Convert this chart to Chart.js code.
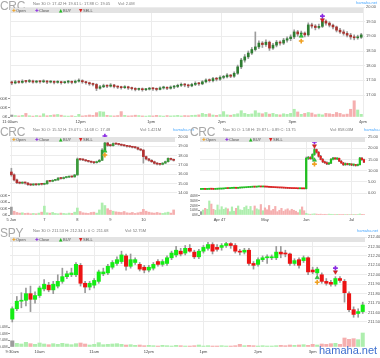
<!DOCTYPE html>
<html>
<head>
<meta charset="utf-8">
<script src="https://cdn.jsdelivr.net/npm/chart.js@4.4.1/dist/chart.umd.min.js"></script>
<style>
body{margin:0;width:380px;height:358px;position:relative;overflow:hidden;background:#fff;font-family:"Liberation Sans",Arial,sans-serif}
canvas{position:absolute}
.t{position:absolute;color:#a8a8a8;font-family:"Liberation Sans Narrow","Liberation Sans",Arial,sans-serif;font-size:12px;line-height:12px;letter-spacing:-0.3px}
.i{position:absolute;color:#777;font-size:4px;line-height:5px;white-space:nowrap}
.w{position:absolute;color:#4aa8ff;font-size:4px;line-height:5px;white-space:nowrap}
.band{position:absolute;height:5px;background:#e3e3e3;font-size:4px;line-height:5px;color:#555;white-space:nowrap}
.band span{position:absolute;top:0}
.ic{font-family:"DejaVu Sans",sans-serif;font-size:4.5px}
.big{position:absolute;left:319px;top:344px;font-size:11px;line-height:13px;color:#3d6fcf;white-space:nowrap}
</style>
</head>
<body>
<canvas id="c1" width="380" height="125" style="left:0;top:0"></canvas>
<canvas id="c2" width="190" height="97" style="left:0;top:125px"></canvas>
<canvas id="c3" width="190" height="97" style="left:190px;top:125px"></canvas>
<canvas id="c4" width="380" height="132" style="left:0;top:226px"></canvas>

<div class="t" style="left:0;top:0">CRC</div>
<div class="i" style="left:33px;top:1px">Nov 30 O: 17.42 H: 19.61 L: 17.88 C: 19.05</div>
<div class="i" style="left:118px;top:1px">Vol: 2.0M</div>
<div class="w" style="left:356px;top:0">hamaha.net</div>
<div class="band" style="left:10px;top:8px;width:353px">
<span class="ic" style="left:2px;color:#f0a020">✚</span><span style="left:6px">Open</span>
<span class="ic" style="left:25px;color:#8a2be2">✚</span><span style="left:29px">Close</span>
<span class="ic" style="left:49px;color:#22b822">▲</span><span style="left:53px">BUY</span>
<span class="ic" style="left:69px;color:#d82020">▼</span><span style="left:73px">SELL</span>
</div>

<div class="t" style="left:0;top:126px">CRC</div>
<div class="i" style="left:33px;top:127px">Nov 30 O: 15.52 H: 19.07 L: 14.68 C: 17.48</div>
<div class="i" style="left:140px;top:127px">Vol: 1.421M</div>
<div class="w" style="left:173px;top:127px">hamaha.net</div>
<div class="band" style="left:10px;top:137px;width:165px">
<span class="ic" style="left:2px;color:#f0a020">✚</span><span style="left:6px">Open</span>
<span class="ic" style="left:25px;color:#8a2be2">✚</span><span style="left:29px">Close</span>
<span class="ic" style="left:49px;color:#22b822">▲</span><span style="left:53px">BUY</span>
<span class="ic" style="left:69px;color:#d82020">▼</span><span style="left:73px">SELL</span>
</div>

<div class="t" style="left:190px;top:126px">CRC</div>
<div class="i" style="left:223px;top:127px">Nov 30 O: 1.58 H: 19.87 L: 0.89 C: 13.75</div>
<div class="i" style="left:330px;top:127px">Vol: 858.03M</div>
<div class="w" style="left:364px;top:127px">hamaha.net</div>
<div class="band" style="left:200px;top:137px;width:165px">
<span class="ic" style="left:2px;color:#f0a020">✚</span><span style="left:6px">Open</span>
<span class="ic" style="left:25px;color:#8a2be2">✚</span><span style="left:29px">Close</span>
<span class="ic" style="left:49px;color:#22b822">▲</span><span style="left:53px">BUY</span>
<span class="ic" style="left:69px;color:#d82020">▼</span><span style="left:73px">SELL</span>
</div>

<div class="t" style="left:0;top:227px">SPY</div>
<div class="i" style="left:33px;top:228px">Nov 30 O: 211.53 H: 212.34 L: 0 C: 211.68</div>
<div class="i" style="left:125px;top:228px">Vol: 52.75M</div>
<div class="w" style="left:357px;top:228px">hamaha.net</div>
<div class="band" style="left:10px;top:237px;width:355px">
<span class="ic" style="left:2px;color:#f0a020">✚</span><span style="left:6px">Open</span>
<span class="ic" style="left:25px;color:#8a2be2">✚</span><span style="left:29px">Close</span>
<span class="ic" style="left:49px;color:#22b822">▲</span><span style="left:53px">BUY</span>
<span class="ic" style="left:69px;color:#d82020">▼</span><span style="left:73px">SELL</span>
</div>
<div class="big">hamaha.net</div>

<script>
// CRC intraday, 3-minute candles 11:00am - 4pm
const crcDayOpen = [
  17.42,17.41,17.45,17.43,17.47,17.46,17.48,17.44,17.46,17.45,
  17.47,17.44,17.46,17.43,17.45,17.42,17.44,17.46,17.43,17.47,
  17.49,17.45,17.42,17.38,17.36,17.23,17.28,17.32,17.30,17.34,
  17.29,17.27,17.25,17.28,17.24,17.22,17.19,17.21,17.18,17.20,
  17.22,17.21,17.19,17.24,17.26,17.23,17.27,17.29,17.33,17.36,
  17.34,17.31,17.36,17.40,17.38,17.45,17.51,17.49,17.56,17.54,
  17.60,17.62,17.68,17.64,17.74,17.96,18.19,18.30,18.43,18.55,
  18.64,18.77,18.72,18.80,18.60,18.70,18.80,18.77,18.87,18.92,
  18.98,19.15,19.08,19.11,19.05,19.39,19.35,19.30,19.34,19.52,
  19.45,19.38,19.32,19.21,19.15,19.10,19.04,18.98,18.95,18.97];
const crcDayHigh = [
  17.47,17.50,17.49,17.52,17.50,17.53,17.51,17.50,17.49,17.52,
  17.50,17.49,17.48,17.49,17.47,17.46,17.50,17.48,17.51,17.55,
  17.52,17.47,17.44,17.41,17.39,17.33,17.37,17.35,17.39,17.36,
  17.31,17.30,17.32,17.30,17.27,17.25,17.24,17.24,17.23,17.26,
  17.25,17.24,17.28,17.30,17.28,17.31,17.33,17.37,17.41,17.39,
  17.37,17.40,17.45,17.43,17.49,17.55,17.55,17.60,17.60,17.65,
  17.67,17.73,17.70,17.79,18.02,18.25,18.38,18.50,18.62,19.15,
  18.85,18.82,18.88,18.84,18.76,18.86,18.85,18.93,18.98,19.05,
  19.22,19.20,19.18,19.15,19.46,19.45,19.40,19.42,19.61,19.56,
  19.50,19.42,19.35,19.27,19.22,19.16,19.10,19.05,19.04,19.10];
const crcDayLow = [
  17.35,17.38,17.40,17.40,17.41,17.42,17.40,17.41,17.40,17.42,
  17.39,17.41,17.38,17.40,17.37,17.39,17.40,17.38,17.40,17.44,
  17.40,17.37,17.33,17.31,17.15,17.20,17.25,17.25,17.27,17.24,
  17.22,17.20,17.22,17.19,17.17,17.14,17.16,17.13,17.15,17.17,
  17.16,17.14,17.17,17.20,17.18,17.20,17.22,17.25,17.29,17.28,
  17.25,17.28,17.32,17.33,17.35,17.41,17.44,17.45,17.48,17.50,
  17.55,17.58,17.59,17.60,17.70,17.90,18.12,18.24,18.38,18.50,
  18.58,18.62,18.66,18.52,18.55,18.64,18.70,18.72,18.80,18.85,
  18.92,19.00,19.02,18.98,19.00,19.28,19.22,19.25,19.30,19.38,
  19.32,19.25,19.15,19.10,19.04,18.98,18.90,18.88,18.90,18.93];
const crcDayClose = [
  17.41,17.45,17.43,17.47,17.46,17.48,17.44,17.46,17.45,17.47,
  17.44,17.46,17.43,17.45,17.42,17.44,17.46,17.43,17.47,17.49,
  17.45,17.42,17.38,17.36,17.23,17.28,17.32,17.30,17.34,17.29,
  17.27,17.25,17.28,17.24,17.22,17.19,17.21,17.18,17.20,17.22,
  17.21,17.19,17.24,17.26,17.23,17.27,17.29,17.33,17.36,17.34,
  17.31,17.36,17.40,17.38,17.45,17.51,17.49,17.56,17.54,17.60,
  17.62,17.68,17.64,17.74,17.96,18.19,18.30,18.43,18.55,18.64,
  18.77,18.72,18.80,18.60,18.70,18.80,18.77,18.87,18.92,18.98,
  19.15,19.08,19.11,19.05,19.39,19.35,19.30,19.34,19.52,19.45,
  19.38,19.32,19.21,19.15,19.10,19.04,18.98,18.95,18.97,19.05];
const crcDayVol = [ // thousands
  110,80,60,90,200,70,50,80,60,180,
  70,90,120,140,100,60,50,70,40,150,
  60,80,110,90,240,300,280,90,70,60,
  80,300,90,60,70,100,80,60,50,70,
  60,90,70,50,80,60,70,90,60,80,
  70,90,100,120,200,150,180,110,90,130,
  300,120,100,140,180,350,200,150,170,350,
  220,180,250,160,200,140,120,180,150,200,
  430,280,150,200,250,220,130,160,120,200,
  180,150,250,200,130,160,430,900,390,150];
const crcDayTickPos = [-0.5, 19.5, 39.5, 59.5, 79.5, 99.5];
const crcDayTickLabels = ['11:00am', '12pm', '1pm', '2pm', '3pm', '4pm'];
const crcDayPriceTicks = [17, 17.5, 18, 18.5, 19, 19.5, 20];
const crcDayVolTicks = [0, 500, 1000];
// markers: Open, BUY, Close, SELL
const crcDayMarkX = [82, 82, 88, 88];
const crcDayMarkY = [18.84, 19.01, 19.69, 19.56];

// CRC, 5 days of bars
const crcWeekOpen = [
  16.25,15.95,15.40,15.10,15.05,15.12,15.07,14.90,14.86,14.92,14.88,14.95,
  14.93,14.98,15.29,15.25,15.35,15.40,15.60,15.55,15.65,15.70,15.75,15.72,
  15.93,17.64,17.58,17.54,17.45,17.38,17.30,17.25,17.35,17.50,18.60,19.36,
  19.10,19.07,19.30,19.25,19.20,19.12,19.07,19.00,18.96,18.90,18.86,18.70,
  18.60,17.90,17.65,17.50,17.35,17.18,17.10,17.07,17.20,17.36,17.71,17.60];
const crcWeekHigh = [
  16.65,16.05,15.50,15.20,15.20,15.18,15.12,14.98,15.00,14.98,15.02,15.00,
  15.05,15.35,15.33,15.42,15.46,15.66,15.65,15.72,15.76,15.80,15.80,16.00,
  17.75,17.70,17.65,17.58,17.50,17.42,17.35,17.42,17.60,18.75,19.50,19.45,
  19.20,19.38,19.36,19.30,19.25,19.16,19.12,19.05,19.00,18.95,18.92,18.75,
  18.65,17.95,17.72,17.58,17.42,17.25,17.15,17.25,17.42,17.78,17.75,17.65];
const crcWeekLow = [
  15.80,15.30,15.00,14.98,14.98,14.95,14.82,14.78,14.80,14.80,14.84,14.85,
  14.88,14.95,15.18,15.20,15.30,15.35,15.48,15.50,15.60,15.65,15.66,15.70,
  15.90,17.48,17.45,17.38,17.30,17.22,17.15,17.20,17.30,17.45,18.50,19.00,
  18.98,19.02,19.18,19.12,19.05,18.98,18.92,18.88,18.82,18.78,18.62,18.52,
  17.20,17.55,17.42,17.28,17.10,17.02,16.98,17.02,17.15,17.30,17.52,17.42];
const crcWeekClose = [
  15.95,15.40,15.10,15.05,15.12,15.07,14.90,14.86,14.92,14.88,14.95,14.93,
  14.98,15.29,15.25,15.35,15.40,15.60,15.55,15.65,15.70,15.75,15.72,15.93,
  17.64,17.58,17.54,17.45,17.38,17.30,17.25,17.35,17.50,18.60,19.36,19.10,
  19.07,19.30,19.25,19.20,19.12,19.07,19.00,18.96,18.90,18.86,18.70,18.60,
  17.90,17.65,17.50,17.35,17.18,17.10,17.07,17.20,17.36,17.71,17.60,17.50];
const crcWeekVol = [ // thousands
  250,120,80,60,70,50,60,40,50,40,60,90,
  280,70,60,80,50,40,60,50,40,60,50,90,
  220,110,70,60,50,80,90,60,160,380,300,200,
  150,120,100,90,80,110,70,60,80,50,70,90,
  180,120,90,70,60,80,60,50,70,90,60,160];
const crcWeekTickPos = [0, 12, 24, 36, 48];
const crcWeekTickLabels = ['5 Jun', '7', '8', '9', '10'];
const crcWeekPriceTicks = [14, 15, 16, 17, 18, 19, 20];
const crcWeekVolTicks = [0, 200, 400, 600];
const crcWeekMarkX = [34, 34, 34, 34];
const crcWeekMarkY = [18.07, 18.5, 20.1, 19.79];

// CRC, daily bars
const crcQtrOpen = [
  1.62,1.65,1.70,1.62,1.68,1.75,1.70,1.66,1.72,1.78,1.80,
  1.85,1.95,2.05,2.00,2.10,2.15,2.20,2.12,2.25,2.30,2.35,
  2.40,2.50,2.55,2.62,2.70,2.65,2.75,2.80,2.72,2.78,2.70,
  2.65,2.55,2.50,2.45,2.40,2.35,2.30,2.28,2.22,2.15,2.10,
  2.05,2.00,1.98,1.95,1.92,1.95,1.90,
  1.90,15.50,15.80,15.30,17.20,19.40,18.20,16.40,15.00,13.90,
  13.50,13.00,13.30,15.10,15.60,15.20,15.50,14.20,13.40,12.60,
  13.10,12.70,12.90,12.50,12.70,12.30,12.60,15.60,14.90];
const crcQtrHigh = [
  1.75,1.78,1.76,1.74,1.82,1.80,1.76,1.78,1.85,1.88,1.92,
  2.02,2.12,2.10,2.16,2.22,2.26,2.24,2.32,2.36,2.42,2.46,
  2.58,2.62,2.70,2.78,2.76,2.82,2.88,2.85,2.84,2.82,2.75,
  2.70,2.60,2.56,2.50,2.44,2.38,2.36,2.32,2.26,2.20,2.16,
  2.10,2.06,2.04,2.00,2.02,2.00,1.96,
  16.00,16.30,16.20,17.50,19.87,19.60,18.50,16.80,15.40,14.30,
  13.90,13.60,15.40,15.90,15.80,15.70,15.60,14.50,13.70,13.40,
  13.30,13.20,13.10,12.90,12.80,12.90,15.90,15.80,15.10];
const crcQtrLow = [
  1.55,1.58,1.56,1.58,1.62,1.64,1.60,1.62,1.66,1.72,1.74,
  1.80,1.88,1.94,1.95,2.02,2.08,2.06,2.08,2.20,2.24,2.30,
  2.34,2.44,2.48,2.56,2.58,2.60,2.68,2.66,2.68,2.64,2.58,
  2.48,2.42,2.38,2.34,2.28,2.24,2.20,2.16,2.10,2.05,2.00,
  1.95,1.92,1.89,1.86,1.86,1.84,1.82,
  1.85,15.00,15.10,15.00,16.80,17.80,16.00,14.80,13.60,13.20,
  12.70,12.60,13.10,14.80,15.00,14.90,14.00,13.20,12.30,12.40,
  12.50,12.30,12.20,12.10,12.00,12.10,12.50,14.60,13.50];
const crcQtrClose = [
  1.65,1.70,1.62,1.68,1.75,1.70,1.66,1.72,1.78,1.80,1.85,
  1.95,2.05,2.00,2.10,2.15,2.20,2.12,2.25,2.30,2.35,2.40,
  2.50,2.55,2.62,2.70,2.65,2.75,2.80,2.72,2.78,2.70,2.65,
  2.55,2.50,2.45,2.40,2.35,2.30,2.28,2.22,2.15,2.10,2.05,
  2.00,1.98,1.95,1.92,1.95,1.90,1.88,
  15.50,15.80,15.30,17.20,19.40,18.20,16.40,15.00,13.90,13.50,
  13.00,13.30,15.10,15.60,15.20,15.50,14.20,13.40,12.60,13.10,
  12.70,12.90,12.50,12.70,12.30,12.60,15.60,14.90,13.75];
const crcQtrVol = [ // millions
  7,10.5,14,12,29.5,23,12,10,21,11,
  17.5,12,15,13,7,17,8,14,19,11,
  10,16,19,12,18,9,19,13,11,22,
  9,15,11,20,9,12,18,7,10,14,
  8,11,13,9,12,10,8,5,11,17,9,
  3.5,2,1.5,2,2.5,2,1.5,1.8,1.2,1.5,
  1,1.8,1.5,1.2,1,1.4,1.2,1,1.3,1,
  0.9,1.1,1,0.8,1,0.9,2.2,1.4,1];
const crcQtrTickPos = [9, 31, 51, 73];
const crcQtrTickLabels = ['Apr 47', 'May', 'Jun', 'Jul'];
const crcQtrPriceTicks = [0, 5, 10, 15, 20, 25];
const crcQtrVolTicks = [0, 10, 20, 30, 40];
const crcQtrMarkX = [55, 55, 55, 55];
const crcQtrMarkY = [12.9, 14.7, 22.8, 21.0];

// SPY intraday, 5-minute candles
const spyOpen = [
  211.53,211.64,211.72,211.73,211.80,211.74,211.78,211.85,211.89,211.84,
  211.88,211.93,211.98,212.00,212.00,212.10,211.91,211.87,211.89,211.93,
  212.01,212.02,212.08,212.12,212.14,212.20,212.09,212.13,212.11,212.08,
  212.05,212.07,212.14,212.11,212.12,212.18,212.21,212.25,212.23,212.28,
  212.24,212.19,212.25,212.28,212.32,212.29,212.29,212.31,212.33,212.31,
  212.25,212.24,212.26,212.12,212.11,212.16,212.18,212.18,212.18,212.24,
  212.23,212.22,212.12,212.16,212.15,212.18,212.05,212.02,212.00,211.93,
  211.92,211.90,211.96,211.93,211.80,211.63,211.59,211.61];
const spyHigh = [
  211.66,211.77,211.81,211.86,211.88,211.82,211.88,211.95,211.92,211.93,
  212.00,212.07,212.04,212.07,212.13,212.12,211.93,211.93,211.96,212.05,
  212.07,212.11,212.15,212.19,212.25,212.22,212.22,212.18,212.13,212.10,
  212.10,212.13,212.16,212.16,212.20,212.25,212.30,212.28,212.31,212.32,
  212.26,212.27,212.31,212.35,212.34,212.32,212.33,212.35,212.34,212.33,
  212.27,212.28,212.28,212.14,212.18,212.20,212.21,212.21,212.30,212.30,
  212.26,212.23,212.17,212.18,212.20,212.19,212.08,212.08,212.02,211.96,
  211.94,211.98,211.98,211.95,211.82,211.66,211.64,211.71];
const spyLow = [
  211.50,211.62,211.65,211.67,211.61,211.70,211.76,211.83,211.82,211.80,
  211.86,211.91,211.96,211.98,211.98,211.88,211.81,211.84,211.86,211.91,
  211.99,212.00,212.06,212.10,212.12,212.05,212.07,212.11,212.04,212.02,
  212.03,212.05,212.09,212.09,212.10,212.16,212.19,212.20,212.21,212.24,
  212.17,212.17,212.23,212.26,212.22,212.25,212.26,212.29,212.28,212.23,
  212.21,212.22,212.10,212.06,212.09,212.14,212.12,212.16,212.16,212.18,
  212.19,212.10,212.10,212.07,212.13,212.00,212.01,212.00,211.91,211.89,
  211.88,211.88,211.92,211.71,211.61,211.55,211.55,211.59];
const spyClose = [
  211.64,211.72,211.73,211.80,211.74,211.78,211.86,211.90,211.84,211.90,
  211.93,211.98,212.01,212.02,212.11,211.91,211.87,211.91,211.94,212.03,
  212.03,212.09,212.13,212.16,212.21,212.09,212.16,212.16,212.06,212.05,
  212.08,212.11,212.11,212.14,212.18,212.23,212.26,212.22,212.28,212.25,
  212.19,212.25,212.29,212.32,212.25,212.27,212.31,212.33,212.31,212.25,
  212.24,212.26,212.12,212.10,212.16,212.18,212.19,212.19,212.24,212.22,
  212.22,212.12,212.15,212.10,212.18,212.03,212.03,212.06,211.93,211.91,
  211.90,211.96,211.94,211.81,211.63,211.58,211.61,211.68];
const spyVol = [ // millions
  1.85,1.1,0.9,1.4,1.0,0.8,1.2,0.9,0.7,1.0,
  0.8,1.1,0.9,0.7,1.0,1.2,0.9,0.6,0.8,1.3,
  0.7,0.8,0.9,1.0,0.8,0.6,0.7,0.5,0.6,0.4,
  0.5,0.4,0.3,0.5,0.4,0.3,0.5,0.4,0.3,0.3,
  0.4,0.6,0.3,0.4,0.3,0.3,0.4,0.3,0.3,0.4,
  0.8,0.4,0.5,0.4,0.3,0.4,0.3,0.3,0.4,0.5,
  0.4,0.6,0.5,0.6,0.7,0.5,0.8,0.6,0.9,0.8,
  1.0,1.1,0.8,2.7,2.3,2.5,2.2,4.2];
const spyTickPos = [0, 6, 18, 30, 42, 54, 66];
const spyTickLabels = ['9:30am', '10am', '11am', '12pm', '1pm', '2pm', '3pm'];
const spyPriceTicks = [211.5, 211.6, 211.7, 211.8, 211.9, 212.0, 212.1, 212.2, 212.3, 212.4];
const spyVolTicks = [0, 2, 4, 6];
const spyMarkX = [67, 67, 71, 71];
const spyMarkY = [211.92, 211.97, 212.07, 212.03];

Chart.defaults.font.family = '"Liberation Sans", Arial, sans-serif';

const markLook = [
  {label: 'Open', style: 'cross', rot: 0, edge: '#f0a020', fill: '#f0a020', bw: 1.6},
  {label: 'BUY', style: 'triangle', rot: 0, edge: '#1a951a', fill: '#2ecc40', bw: 0.5},
  {label: 'Close', style: 'cross', rot: 0, edge: '#8a2be2', fill: '#8a2be2', bw: 1.6},
  {label: 'SELL', style: 'triangle', rot: 180, edge: '#b01010', fill: '#e02020', bw: 0.5}
];

function candleChart(id, d, look) {
  const idx = d.close.map((_, i) => i);
  const up = idx.map(i => d.close[i] >= d.open[i]);
  const volColor = idx.map(i => i === 0 ? '#9c9c9c' : (up[i] ? '#aeeeae' : '#f5afaf'));
  const marks = markLook.map((m, k) => ({
    type: 'line', label: m.label, showLine: false, clip: false, order: 0,
    xAxisID: 'x', yAxisID: 'y',
    data: [{x: d.markX[k], y: d.markY[k]}],
    pointStyle: m.style, rotation: m.rot, pointRadius: 2.4, borderWidth: m.bw,
    borderColor: m.edge, backgroundColor: m.fill
  }));
  const font = {size: 4};
  new Chart(document.getElementById(id), {
    type: 'bar',
    data: {
      datasets: [
        ...marks,
        {label: 'body', order: 1, grouped: false, barThickness: look.body, minBarLength: 1,
         xAxisID: 'x', yAxisID: 'y',
         data: idx.map(i => ({x: i, y: [d.open[i], d.close[i]]})),
         backgroundColor: idx.map(i => up[i] ? look.up : look.down)},
        {label: 'wick', order: 2, grouped: false, barThickness: look.wick,
         xAxisID: 'x', yAxisID: 'y',
         data: idx.map(i => ({x: i, y: [d.low[i], d.high[i]]})),
         backgroundColor: look.wickColor},
        {label: 'vol', order: 3, grouped: false, barThickness: look.volW,
         xAxisID: 'x', yAxisID: 'v',
         data: idx.map(i => ({x: i, y: d.vol[i]})),
         backgroundColor: volColor}
      ]
    },
    options: {
      responsive: false, animation: false, devicePixelRatio: 1,
      layout: {padding: {top: look.padTop, left: 0, right: 0, bottom: 0}},
      plugins: {legend: {display: false}, tooltip: {enabled: false}},
      scales: {
        x: {
          type: 'linear', min: -0.5, max: d.close.length - 0.5, offset: false,
          grid: {color: '#ececec', offset: false, drawTicks: false},
          border: {display: false},
          afterBuildTicks: s => { s.ticks = d.tickPos.map(v => ({value: v})); },
          afterFit: s => { s.height = look.xH; },
          ticks: {autoSkip: false, maxRotation: 0, padding: 2, font, color: '#444',
                  callback: (v, i) => d.tickLabels[i]}
        },
        y: {
          type: 'linear', position: 'right', min: look.pMin, max: look.pMax,
          grid: {color: '#ececec', tickLength: 2},
          border: {display: false},
          afterBuildTicks: s => { s.ticks = d.priceTicks.map(v => ({value: v})); },
          afterFit: s => { s.width = look.rW; },
          ticks: {padding: 1, font, color: '#555', callback: v => Number(v).toFixed(2)}
        },
        v: {
          type: 'linear', position: 'left', min: 0, max: look.vMax,
          grid: {drawOnChartArea: false, tickLength: 2, color: '#999'},
          border: {display: false},
          afterBuildTicks: s => { s.ticks = d.volTicks.map(v => ({value: v})); },
          afterFit: s => { s.width = 10; },
          ticks: {padding: 0.5, font, color: '#555', callback: v => look.volFmt(v)}
        }
      }
    }
  });
}

candleChart('c1', {
  open: crcDayOpen, high: crcDayHigh, low: crcDayLow, close: crcDayClose, vol: crcDayVol,
  tickPos: crcDayTickPos, tickLabels: crcDayTickLabels, priceTicks: crcDayPriceTicks,
  volTicks: crcDayVolTicks, markX: crcDayMarkX, markY: crcDayMarkY
}, {
  pMin: 16.25, pMax: 20, vMax: 6111, padTop: 7, xH: 8, rW: 17,
  body: 2, wick: 1, volW: 2.4, up: '#2f7d32', down: '#a8322d', wickColor: '#9c9c9c',
  volFmt: v => v + 'K'
});

candleChart('c2', {
  open: crcWeekOpen, high: crcWeekHigh, low: crcWeekLow, close: crcWeekClose, vol: crcWeekVol,
  tickPos: crcWeekTickPos, tickLabels: crcWeekTickLabels, priceTicks: crcWeekPriceTicks,
  volTicks: crcWeekVolTicks, markX: crcWeekMarkX, markY: crcWeekMarkY
}, {
  pMin: 11.64, pMax: 20, vMax: 2463, padTop: 12, xH: 7, rW: 15,
  body: 2, wick: 1, volW: 2, up: '#3a9a3a', down: '#b33030', wickColor: '#9c9c9c',
  volFmt: v => v + 'K'
});

candleChart('c3', {
  open: crcQtrOpen, high: crcQtrHigh, low: crcQtrLow, close: crcQtrClose, vol: crcQtrVol,
  tickPos: crcQtrTickPos, tickLabels: crcQtrTickLabels, priceTicks: crcQtrPriceTicks,
  volTicks: crcQtrVolTicks, markX: crcQtrMarkX, markY: crcQtrMarkY
}, {
  pMin: -9.82, pMax: 25, vMax: 164, padTop: 12, xH: 7, rW: 15,
  body: 1.6, wick: 0.8, volW: 1.5, up: '#1fc01f', down: '#e02020', wickColor: '#777',
  volFmt: v => v + 'M'
});

candleChart('c4', {
  open: spyOpen, high: spyHigh, low: spyLow, close: spyClose, vol: spyVol,
  tickPos: spyTickPos, tickLabels: spyTickLabels, priceTicks: spyPriceTicks,
  volTicks: spyVolTicks, markX: spyMarkX, markY: spyMarkY
}, {
  pMin: 211.235, pMax: 212.4, vMax: 33, padTop: 11, xH: 11, rW: 15,
  body: 3.4, wick: 1, volW: 3.4, up: '#14ec14', down: '#ec1414', wickColor: '#999',
  volFmt: v => Number(v).toFixed(1) + 'M'
});
</script>
</body>
</html>
